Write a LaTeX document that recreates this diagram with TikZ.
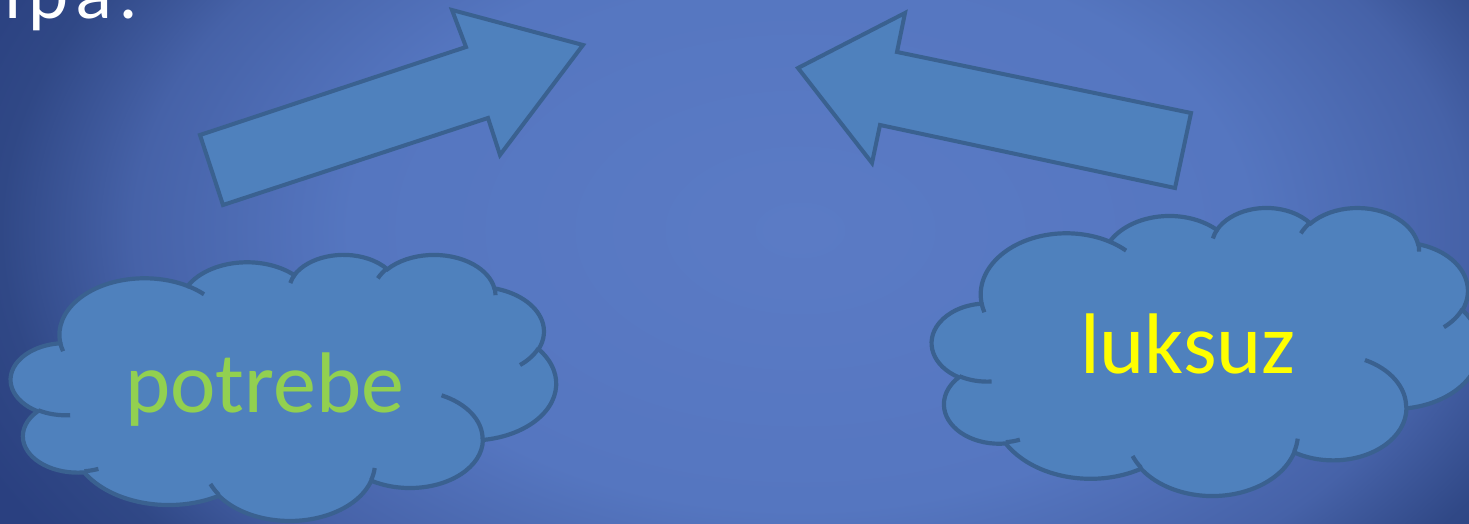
\documentclass[tikz,border=0pt]{standalone}
\usepackage{fontspec}
\setmainfont{Carlito}
\newfontfamily\titlefont[LetterSpace=10]{Lato}
\definecolor{bgA}{HTML}{5B7BC5}
\definecolor{bgB}{HTML}{5576C0}
\definecolor{bgC}{HTML}{4662A8}
\definecolor{bgD}{HTML}{304886}
\definecolor{bgE}{HTML}{2A4080}
\definecolor{shapefill}{HTML}{4F81BD}
\definecolor{shapeline}{HTML}{3A6190}
\definecolor{needgreen}{HTML}{92D050}
\definecolor{luxyellow}{HTML}{FFFF00}
\pgfdeclareradialshading{bgshade}{\pgfpoint{0bp}{0bp}}{color(0bp)=(bgA); color(12.5bp)=(bgB); color(18.5bp)=(bgC); color(22.2bp)=(bgD); color(25bp)=(bgE); color(50bp)=(bgE)}
% convert a DrawingML (visual) ellipse angle to a parametric angle
\pgfmathdeclarefunction{visang}{3}{\pgfmathparse{#1+mod(atan2(#2*sin(#1),#3*cos(#1))-(#1)+900,360)-180}}
\newcommand\mkarc[5]{%
  \pgfmathsetmacro\clTmpS{visang(#4,#2,#3)}%
  \pgfmathsetmacro\clTmpE{visang(#4+#5,#2,#3)}%
  \edef\clTmp{\noexpand\tikzset{#1/.style={x radius=#2, y radius=#3, start angle=\clTmpS, end angle=\clTmpE}}}%
  \clTmp}
% outline arcs
\mkarc{cmA}{67.53}{91.90}{-190.4875}{123.7805}
\mkarc{cmB}{53.33}{72.67}{-144.1024}{89.9452}
\mkarc{cmC}{43.65}{59.45}{-145.8079}{99.7230}
\mkarc{cmD}{48.57}{65.95}{-130.9861}{117.2417}
\mkarc{cmE}{53.33}{72.73}{-78.7089}{109.0269}
\mkarc{cmF}{67.75}{92.20}{-46.2673}{130.2690}
\mkarc{cmG}{57.85}{78.67}{0.6250}{114.0333}
\mkarc{cmH}{67.52}{92.15}{22.4516}{115.1726}
\mkarc{cmI}{77.20}{105.43}{66.2426}{75.7110}
\mkarc{cmJ}{43.60}{59.18}{-274.9421}{146.7356}
\mkarc{cmK}{43.45}{59.45}{-246.8285}{152.5189}
% inner arcs
\mkarc{ciA}{43.45}{59.45}{86.7420}{26.4295}
\mkarc{ciB}{43.60}{59.18}{73.6105}{11.4475}
\mkarc{ciC}{67.52}{92.15}{137.6242}{14.0811}
\mkarc{ciD}{67.52}{92.15}{6.4533}{15.9984}
\mkarc{ciE}{57.85}{78.67}{-70.2924}{70.9174}
\mkarc{ciF}{53.33}{72.73}{30.3180}{27.7515}
\mkarc{ciG}{48.57}{65.95}{-13.7443}{14.8589}
\mkarc{ciH}{48.57}{65.95}{-149.1815}{18.1954}
\mkarc{ciI}{43.65}{59.45}{-163.4943}{17.6864}
\mkarc{ciJ}{67.53}{91.90}{-66.7070}{12.3194}
\mkarc{ciK}{67.53}{91.90}{157.6544}{11.8582}
\newcommand\cloudbody{%
  \filldraw[cloudshape] (39.00,143.70) arc[cmA] arc[cmB] arc[cmC] arc[cmD] arc[cmE] arc[cmF]
    arc[cmG] arc[cmH] arc[cmI] arc[cmJ] arc[cmK] -- cycle;
  \draw[cloudinner] (46.93,261.77) arc[ciA] (69.28,348.99) arc[ciB]
    (164.78,390.90) arc[ciC] (288.27,347.51) arc[ciD] (341.29,229.54) arc[ciE]
    (417.98,153.54) arc[ciF] (383.24,54.26) arc[ciG] (290.78,39.52) arc[ciH]
    (221.41,47.20) arc[ciI] (140.00,51.92) arc[ciJ] (41.27,157.89) arc[ciK];
}
\tikzset{
  blockarrow/.style={fill=shapefill, draw=shapeline, line width=4pt, line join=miter},
  cloudshape/.style={fill=shapefill, draw=shapeline, line width=4.2pt},
  cloudinner/.style={draw=shapeline, line width=4.2pt},
  cloudtext/.style={anchor=base, inner sep=0pt, font=\fontsize{86}{98}\selectfont}
}
\begin{document}
\begin{tikzpicture}[x=1pt, y=-1pt]
\useasboundingbox (0,0) rectangle (1469,524);
\clip (0,0) rectangle (1469,524);
\fill[bgE] (0,0) rectangle (1469,524);
\shade[shading=bgshade] (-100,-330) rectangle (1700,790);
% heading fragment (cut off at the top edge, as in the reference)
\node[anchor=base west, inner sep=0pt, text=white, font=\titlefont\fontsize{72}{84}\selectfont] (title) at (4,19) {ipa:};
% block arrows
\draw[blockarrow] (223,205) -- (200,135) -- (466,47) -- (452,10) -- (583,45) -- (500,155) -- (488,118) -- cycle;
\draw[blockarrow] (798,68) -- (905,13) -- (897,52) -- (1191,113) -- (1175,188) -- (880,125) -- (872,163) -- cycle;
% clouds
\begin{scope}[shift={(11,254)}, x=1.26157pt, y=-0.61574pt]
  \cloudbody
\end{scope}
\begin{scope}[shift={(932,207)}, x=1.26852pt, y=-0.66667pt]
  \cloudbody
\end{scope}
\node[cloudtext, text=needgreen] (potrebe) at (265,412) {potrebe};
\node[cloudtext, text=luxyellow] (luksuz) at (1188,373) {luksuz};
\end{tikzpicture}
\end{document}
